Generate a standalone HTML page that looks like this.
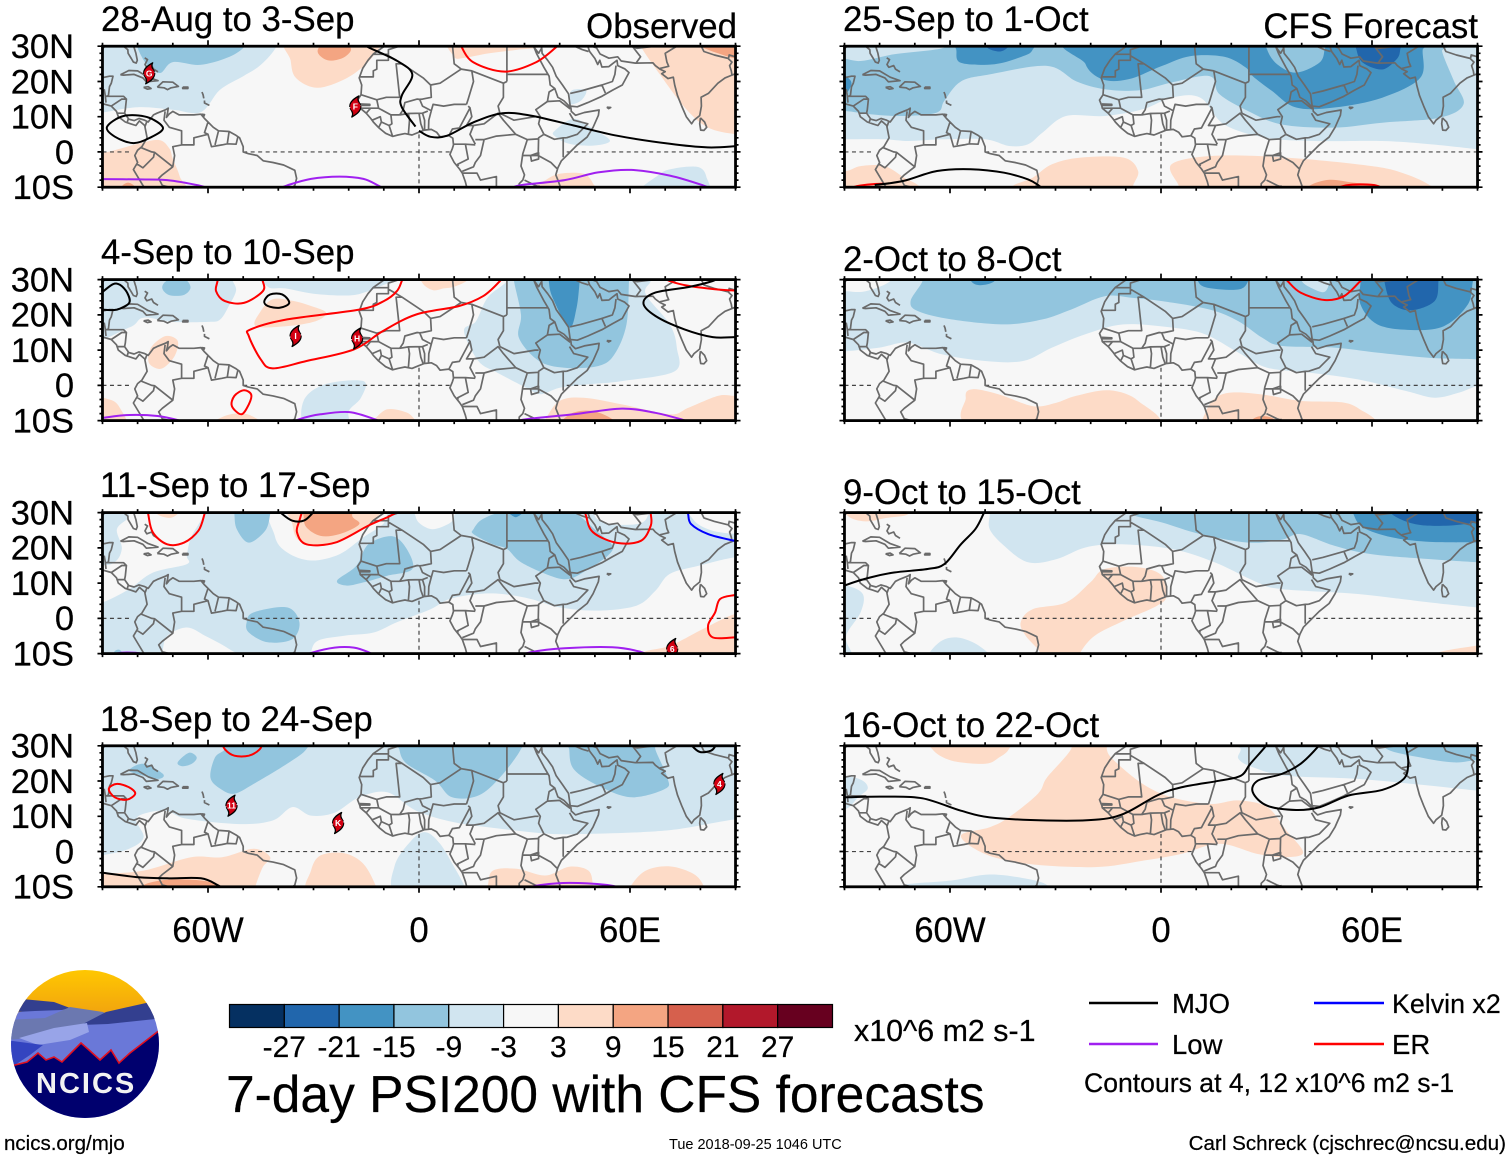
<!DOCTYPE html>
<html lang="en">
<head>
<meta charset="utf-8">
<title>7-day PSI200 with CFS forecasts</title>
<style>
html,body{margin:0;padding:0;background:#fff;}
svg{display:block;}
text{font-family:"Liberation Sans",Arial,sans-serif;fill:#000;stroke:#000;stroke-width:.22px;}
</style>
</head>
<body>
<svg id="root" xmlns="http://www.w3.org/2000/svg" width="1510" height="1159" viewBox="0 0 1510 1159">
  <rect x="0" y="0" width="1510" height="1159" fill="#fff"/>
  <g id="panels"></g>

  <text x="101" y="31" font-size="34.8">28-Aug to 3-Sep</text>
  <text x="101" y="264" font-size="34.8">4-Sep to 10-Sep</text>
  <text x="100" y="497" font-size="34.8">11-Sep to 17-Sep</text>
  <text x="100" y="731" font-size="34.8">18-Sep to 24-Sep</text>
  <text x="843" y="31" font-size="34.8">25-Sep to 1-Oct</text>
  <text x="843" y="271" font-size="34.8">2-Oct to 8-Oct</text>
  <text x="843" y="504" font-size="34.8">9-Oct to 15-Oct</text>
  <text x="842" y="737" font-size="34.8">16-Oct to 22-Oct</text>
  <text x="737" y="38" font-size="34.8" text-anchor="end">Observed</text>
  <text x="1478" y="38" font-size="34.8" text-anchor="end">CFS Forecast</text>

  <g id="colorbar"></g>
  <text x="854" y="1041" font-size="30.4">x10^6 m2 s-1</text>
  <text x="226" y="1112" font-size="51.5">7-day PSI200 with CFS forecasts</text>

  <g>
    <line x1="1089" y1="1003" x2="1158" y2="1003" stroke="#000" stroke-width="2.5"/>
    <text x="1172" y="1013" font-size="27.5">MJO</text>
    <line x1="1089" y1="1044" x2="1158" y2="1044" stroke="#a020f0" stroke-width="2.5"/>
    <text x="1172" y="1054" font-size="27.5">Low</text>
    <line x1="1314" y1="1003" x2="1384" y2="1003" stroke="#0000ff" stroke-width="2.5"/>
    <text x="1392" y="1013" font-size="26.8">Kelvin x2</text>
    <line x1="1314" y1="1044" x2="1384" y2="1044" stroke="#ff0000" stroke-width="2.5"/>
    <text x="1392" y="1054" font-size="27.5">ER</text>
    <text x="1084" y="1092" font-size="26.6">Contours at 4, 12 x10^6 m2 s-1</text>
  </g>

  <text x="4" y="1150" font-size="20.5">ncics.org/mjo</text>
  <text x="669" y="1149" font-size="14.5" style="stroke:none">Tue 2018-09-25 1046 UTC</text>
  <text x="1506" y="1150" font-size="20.6" text-anchor="end">Carl Schreck (cjschrec@ncsu.edu)</text>

  <g>
    <defs>
      <clipPath id="logo-clip"><circle cx="85" cy="1044" r="74"/></clipPath>
      <linearGradient id="sky" x1="0" y1="0" x2="0" y2="1"><stop offset="0" stop-color="#ffc800"/><stop offset="1" stop-color="#f0a010"/></linearGradient>
    </defs>
    <g clip-path="url(#logo-clip)">
      <rect x="10" y="969" width="150" height="50" fill="url(#sky)"/>
      <polygon points="5,1015 54,1005 103,1013 165,1005 165,1125 5,1125" fill="#6a78d8"/>
      <polygon points="5,999 22,999 54,1002 70,1008 62,1010 35,1011 16,1012 5,1012" fill="#333f8f"/>
      <polygon points="5,1020 45,1018 70,1007 103,1012 108,1015 81,1027 49,1037 5,1040" fill="#6b78b0"/>
      <polygon points="81,1025 106,1012 146,1003 165,1000 165,1018 108,1024" fill="#333f8f"/>
      <polygon points="19,1038 54,1028 87,1023 89,1032 70,1040 38,1045" fill="#98a4e8"/>
      <polygon points="5,1040 43,1045 30,1055 15,1065 5,1070" fill="#3344c0"/>
      <polygon points="5,1068 15,1065 27,1062 38,1053 46,1060 54,1057 62,1062 81,1043 89,1050 100,1060 111,1050 119,1063 130,1053 165,1026 165,1125 5,1125" fill="#00006e"/>
      <polyline points="5,1068 15,1065 27,1062 38,1053 46,1060 54,1057 62,1062 81,1043 89,1050 100,1060 111,1050 119,1063 130,1053 165,1026" fill="none" stroke="#e01020" stroke-width="1.6"/>
    </g>
    <text x="36" y="1093" font-size="29" font-weight="700" letter-spacing="2" style="fill:#f2f2f2;stroke:none">NCICS</text>
  </g>
</svg>

<script>
/* Panel dates */
const panelNames = ['28-Aug','4-Sep','11-Sep','18-Sep','25-Sep','2-Oct','9-Oct','16-Oct'];

/* Axis ticks */
const lonTickValues = [-90,-80,-70,-60,-50,-40,-30,-20,-10,0,10,20,30,40,50,60,70,80,90];
const lonLabelValues = [-60,0,60];
const lonLabelText = ['60W','0','60E'];
const latTickValues = [-10,-8,-6,-4,-2,0,2,4,6,8,10,12,14,16,18,20,22,24,26,28,30];
const latLabelValues = [30,20,10,0,-10];
const latLabelText = ['30N','20N','10N','0','10S'];

/* Colour scale */
const scaleBreaks = [-27,-21,-15,-9,-3,3,9,15,21,27];
const scaleColors = ['#053061','#2166ac','#4393c3','#92c5de','#d1e5f0','#f7f7f7','#fddbc7','#f4a582','#d6604d','#b2182b','#67001f'];
const scaleLabels = ['-27','-21','-15','-9','-3','3','9','15','21','27'];

/* Filled PSI anomaly regions: [value, [[lon,lat],...]] */
const fillsP1 = [
 [-6,[[-95,11],[-90,11.2],[-80,12.7],[-70,12],[-62,11.3],[-56.6,17.6],[-50,21.5],[-45,24.7],[-40.5,30],[-40,35],[-95,35]]],
 [-12,[[-80.5,33],[-80,29.5],[-77.3,24.7],[-73.6,22.4],[-70,25.5],[-62.3,24.7],[-54.6,26.7],[-50,29.5],[-48,33]]],
 [6,[[-37,33],[-36.5,26],[-35,21],[-29,18.2],[-21,20.7],[-15,25],[-11,30],[-10,33]]],
 [12,[[-28,30],[-28.7,28],[-26,26],[-22,26.5],[-19.5,28.5],[-20,30],[-24,30.5]]],
 [6,[[9.5,33],[10,27],[13,26.7],[20,28],[28,29],[35,30],[36,33]]],
 [6,[[62,33],[63,30],[68.5,22],[75.5,12.7],[82,7],[90,5],[95,5],[95,33]]],
 [12,[[78,32],[80,30],[85,28],[90,26.5],[95,26],[95,32]]],
 [6,[[-95,-0.5],[-90,-0.3],[-81,2],[-74,3.4],[-71,1],[-70,-2],[-68,-7],[-67,-13],[-95,-13]]],
 [12,[[-84.5,-11],[-84.3,-9.5],[-82.7,-8.7],[-81,-9.6],[-81,-11]]],
 [6,[[32,-11],[36,-8],[40,-6.2],[46.8,-6.2],[49.5,-9],[50,-12]]],
 [-6,[[62,-12],[64,-9.5],[67.5,-7],[71,-5],[79,-4.2],[81.7,-7],[81,-12]]],
 [-6,[[42.7,13.6],[43.4,17.4],[47.5,17.4],[46,14.5]]],
 [-6,[[38.6,6],[44,9.4],[49.5,6.5],[54.3,3.2],[49.5,1.8],[42.7,2.3],[38.6,4.5]]]
];
const fillsP2 = [
 [-6,[[-95,13],[-82.4,16.4],[-78.3,19.2],[-70,18],[-60,18],[-56.5,18.7],[-53.8,23],[-52,27],[-53,30],[-52,32],[-95,32]]],
 [-6,[[-44,33],[-43,28],[-38,27.5],[-30,26],[-20,25.5],[-15,26.5],[-10,28.5],[-7,30],[-5,33]]],
 [-12,[[-73,27.5],[-72,29.5],[-69,30.5],[-66,29.7],[-65,27.5],[-67,25.6],[-71,25.6]]],
 [6,[[-46.4,16.8],[-45,21],[-41.6,24.4],[-36,24],[-30.7,22.5],[-26.4,20.6],[-29.4,18.2],[-37.5,16.8]]],
 [6,[[-77,7.4],[-76,11],[-72,14],[-68.6,12.6],[-69.5,8.3],[-73,4.8],[-76,5.5]]],
 [6,[[0.5,33],[1,29],[4,27],[7,27.5],[10,28],[14,30],[14.5,33]]],
 [-6,[[25,33],[25,29.6],[19.5,24.9],[16.2,18.2],[12.8,15.4],[16.9,6.9],[22.3,3.6],[30.5,-0.7],[34.6,-2.5],[40,-0.7],[48.2,0.3],[57.7,1.2],[72.7,4],[73.3,10.7],[71.3,17.3],[64.5,25.8],[65.9,29.6],[66,33]]],
 [-12,[[27,33],[27,29.6],[29,20],[28.4,13.5],[34,7],[41.4,5],[51,5.5],[55.6,8.8],[59,17.3],[59.7,29.6],[60,33]]],
 [-18,[[36.9,33],[36.9,29.6],[38,24.9],[42.7,16.4],[44.8,22],[45.7,29.6],[46,33]]],
 [6,[[-95,-3.5],[-88,-4],[-85,-6.5],[-83.5,-12],[-95,-12]]],
 [6,[[-60,-12],[-57,-9.5],[-52.5,-8],[-48,-8.5],[-44,-12]]],
 [-6,[[-32.8,-4.4],[-26.7,0.3],[-15.8,1.2],[-16.5,-3.5],[-20,-7.3],[-20.5,-12],[-32,-12]]],
 [6,[[-14,-12],[-13,-10],[-9,-6.8],[-3.5,-7.7],[-1,-10],[0,-12]]],
 [6,[[35,-12],[36,-9.6],[40,-4.4],[46.8,-3.5],[57.7,-5.4],[71.3,-8.2],[76.7,-6.3],[85,-3],[89.7,-3],[95,-3],[95,-12]]],
 [12,[[40,-12],[40.7,-10],[44,-7.7],[49.5,-7.3],[55,-9.6],[56,-12]]]
];
const fillsP3 = [
 [-6,[[-96,-14],[96,-14],[96,34],[-96,34]]],
 [0,[[-95,4],[-90,4.5],[-82.4,8.3],[-75.6,13],[-66,15.4],[-66,17.8],[-64.8,23],[-61.4,29],[-61,33],[-84,33],[-82.4,29],[-85.9,25.3],[-84.5,19.7],[-87.2,15.5],[-95,14]]],
 [0,[[-74,-13],[-73,-9.6],[-71.6,-5],[-66,-2.6],[-60.7,-5],[-54,-8.7],[-49,-13]]],
 [0,[[-31,-13],[-30.7,-9.6],[-28.7,-6.3],[-21,-4.9],[-12.9,-4],[-6.3,-1.1],[3.3,2.6],[8.7,5.5],[16.9,6.9],[23.7,6.9],[31.8,5.5],[40,3.1],[50.9,2.2],[61.8,3.6],[67.2,7.8],[71.3,12.6],[79.5,14.9],[89.7,17.3],[95,17],[95,-13]]],
 [0,[[-40.5,33],[-41,23.4],[-37.5,18.7],[-30.7,16.4],[-22.6,18.2],[-15.8,23],[-10,27],[-9,31],[-10,33]]],
 [0,[[-1,33],[-1,29],[0.5,26.7],[4,25.3],[8.7,27],[10,29],[10,33]]],
 [0,[[50,33],[50,29],[53,27],[58,26.5],[63,27],[65,29],[65,33]]],
 [0,[[77,33],[78,28],[83,25],[90,24],[95,24],[95,33]]],
 [-12,[[-52.5,33],[-52.5,29.6],[-51.8,25.3],[-48.4,21.5],[-43.7,24.9],[-42.3,29.6],[-42,33]]],
 [-12,[[-23.3,10.7],[-17.8,14.9],[-14.4,21],[-7.6,23.3],[-3.5,19.7],[-1.9,14],[-9,12.1],[-15.8,10.2],[-20.5,9.3]]],
 [-12,[[15.5,25.3],[18.2,28.2],[25,30.5],[35.9,31],[44,30],[50.9,24.4],[55,20.6],[53.7,17.8],[48.2,14],[42.7,11.2],[37.3,12.1],[29,15.9],[25,19.7],[21,21],[15.5,23.9]]],
 [-12,[[-49,-1.1],[-47,1.7],[-37.5,3.1],[-34,-1.1],[-36,-5.9],[-43,-6.8],[-48.4,-4]]],
 [-18,[[25,30.5],[26,29.5],[27.5,28.7],[29,29.5],[29.5,30.5]]],
 [-12,[[-87,-11],[-86.5,-9.3],[-85,-9],[-84,-11]]],
 [6,[[-36,33],[-36,26.7],[-34,22],[-26.7,20.6],[-18.5,23.9],[-11.7,29],[-11,33]]],
 [12,[[-32.8,33],[-32.8,29],[-32,25.8],[-28,23.4],[-22.6,23.9],[-17,26.7],[-19,29],[-19,33]]],
 [6,[[-75,31],[-74,29.3],[-71,28.5],[-69,29.3],[-68,31]]],
 [6,[[60,-13],[63.8,-9.6],[71.3,-7.8],[80.8,-3],[89.7,1.2],[95,1],[95,-13]]]
];
const fillsP4 = [
 [-6,[[-95,-1],[-90,-1],[-82.4,0.8],[-78.3,4],[-80.4,8.8],[-78.3,10.7],[-72,11.6],[-66,9.3],[-51,7.8],[-41.6,8.8],[-36,12.6],[-30.7,10.2],[-24,11],[-17,15.4],[-9,16.8],[-0.8,11.6],[10,8.3],[23.7,6.4],[37.3,5],[48,5],[63,5.5],[74,6.4],[89,9],[95,9.5],[95,33],[-95,33]]],
 [-6,[[-6.9,-4],[-2.2,3.1],[1.9,5.5],[6,2.2],[10,-4.4],[12.8,-9.5],[13.5,-12],[-6,-12]]],
 [-12,[[-59.3,21],[-58,26.7],[-55.2,29.1],[-55,33],[-32,33],[-32,29.1],[-37.5,24.9],[-47,19.2],[-52.5,16.4],[-56.5,17.8]]],
 [-12,[[-68.6,25.3],[-65.4,28],[-63.2,26.7],[-64.6,24.9],[-67.3,24.2]]],
 [-12,[[-82.4,23],[-78.3,24.9],[-72.8,22],[-74,20.6],[-78.3,21.5]]],
 [-12,[[-5.6,33],[-5.6,29],[-3.5,24.9],[4.6,20.1],[9.4,15.4],[16.9,15.9],[23,21],[29,29.1],[29,33]]],
 [-12,[[42.7,33],[42.7,29],[44,23.4],[50.9,18.7],[60.4,15.4],[70,17.8],[70.6,21],[67.2,29],[67,33]]],
 [6,[[-95,-6.5],[-90,-6.3],[-78.3,-5.4],[-64.8,-1.6],[-56,-1.6],[-47,0.8],[-42.3,-1.6],[-44.4,-4.4],[-46.4,-9.5],[-47,-12],[-95,-12]]],
 [12,[[-79,-12],[-78.3,-9.5],[-71.6,-8],[-62,-8.2],[-57.2,-9.5],[-56,-12]]],
 [6,[[-31,-12],[-30.7,-5.4],[-28,-1.1],[-21.2,-0.5],[-15.8,-3.5],[-12.4,-9.5],[-12,-12]]],
 [6,[[19,-12],[19.6,-9.5],[21,-5.4],[27.8,-4.9],[35.9,-6.8],[42.7,-4.3],[48.2,-5.4],[49.5,-9.5],[50,-12]]],
 [6,[[60,-12],[60.4,-9.5],[64.5,-5.4],[71.3,-4.2],[78,-6.3],[80.8,-9.5],[81,-12]]]
];
const fillsP5 = [
 [-6,[[-95,3.6],[-89.5,3.6],[-78.6,3.6],[-71.8,3.1],[-62,3.6],[-50,3.6],[-43.2,1.7],[-37.8,2.2],[-33.7,5.5],[-27,10.2],[-16,10.2],[-5.2,12.1],[3,15.4],[11.2,15.4],[18,7.8],[30,4],[43.8,3.1],[62.9,3.1],[76.5,2.2],[90,0.8],[95,0.5],[95,33],[-95,33]]],
 [-12,[[-95,11.5],[-89.5,11.6],[-82.7,10.7],[-73,10.2],[-63.7,11.2],[-61.6,14.5],[-56.9,20],[-48.7,22],[-32.4,24.4],[-24,20],[-16,17.8],[-6,17.5],[3,19.7],[13.9,21.5],[16.6,16.4],[24.8,11.6],[34.3,7.8],[49.3,6.9],[62.9,8.3],[79.2,9.7],[86,13.5],[83.3,20.1],[79.9,28.6],[80,33],[-61,33],[-61.6,29.6],[-75.9,27.7],[-85.4,25.8],[-95,26]]],
 [-18,[[-58.2,33],[-58.2,29],[-56.9,25.3],[-47.3,24.9],[-39.2,27.2],[-36.5,29],[-36,33]]],
 [-18,[[-21,33],[-21.5,25],[-16.7,20.6],[-9.3,20.6],[0.3,24.4],[8.4,27.2],[18,27],[24,24],[26.1,21.5],[31.6,17.3],[38.4,12.6],[49.3,12.6],[62.9,15.4],[73.7,21],[74.4,29],[75,33]]],
 [-12,[[30.2,33],[30.2,29],[33,24.9],[38.4,22.5],[45,25.3],[46.5,29],[46.5,33]]],
 [-24,[[55.6,33],[55.6,29],[57.4,25.3],[62.9,23.4],[67,26.3],[68,29],[68,33]]],
 [-24,[[-50,31],[-49,29.3],[-46,28.5],[-44,29.3],[-43,31]]],
 [-18,[[-91,22],[-89.5,21.5],[-88,19.5],[-89.5,16.5],[-91,16]]],
 [6,[[-95,-12],[-95,-5.4],[-89.5,-5.4],[-85.4,-4],[-78.6,-4],[-73,-7.3],[-69,-9.5],[-68,-12]]],
 [6,[[-43,-12],[-41.9,-9.5],[-36.5,-7.3],[-31,-3.5],[-22.9,-1.6],[-10.6,-1.6],[-6.5,-5.4],[-7.9,-9.5],[-8,-12]]],
 [6,[[5.5,-12],[5,-9.5],[3,-3.5],[15.2,-1.1],[35.6,-1.6],[60,-4],[69.7,-6.3],[76.5,-9.5],[78,-12]]],
 [12,[[41,-12],[42.4,-9.5],[47.9,-7.9],[54.7,-8.7],[61.5,-9.5],[63,-12]]]
];
const fillsP6 = [
 [-6,[[-95,9.5],[-89.5,9.7],[-80,10.7],[-71.8,12.1],[-62.3,8.8],[-50,6.9],[-39.2,6.9],[-31,10.7],[-21.5,14.5],[-10.7,17.3],[3,16.4],[12.5,14.5],[22,9.3],[30.2,5],[42.4,3.6],[56,1.7],[69.7,-1.6],[77.8,-3.5],[84.6,-2.1],[90,-0.2],[95,0],[95,33],[-78,33],[-77,29.6],[-84,26.7],[-89.5,26.7],[-95,27]]],
 [-12,[[-71.2,23.9],[-67.8,29.6],[-68,33],[95,33],[95,7],[90,7.4],[76.5,7.8],[61.5,9.3],[49.3,10.7],[34.3,11.2],[28.8,13.5],[22,18.2],[13.9,21.5],[0.3,23.9],[-8,24.8],[-16,25.3],[-25.6,21.5],[-33.7,18.7],[-44.6,17.3],[-59.6,18.7],[-69,21]]],
 [-18,[[-54,33],[-54,29.6],[-51.4,28.4],[-47.3,29.6],[-47,33]]],
 [-18,[[10.5,33],[10.5,29.6],[13.2,27.7],[22,27.2],[24.8,29.6],[25,33]]],
 [-18,[[56,33],[56.7,29.6],[56.7,23],[61.5,17.3],[71,15.7],[80.5,16.8],[87.3,23],[88.7,29.6],[90,33]]],
 [-24,[[63.5,33],[63.5,29.6],[65.6,23.4],[71,21.3],[77.8,23.9],[78.9,29.6],[79,33]]],
 [-6,[[40,33],[40,29.6],[43,27.5],[46.5,26.5],[48,29.6],[48,33]]],
 [6,[[-52,-12],[-55.5,-3.5],[-53.5,-1.1],[-46,-2.6],[-36.5,-5.9],[-30,-5],[-24.2,-3],[-14.7,-1.4],[-6.5,-4.4],[-3,-12]]],
 [6,[[11,-12],[11.8,-9.6],[14.6,-4.4],[19.3,-2.1],[28.8,-2.6],[39.7,-4.4],[52,-4.9],[57.4,-7.3],[60.8,-9.6],[62,-12]]],
 [12,[[25,-12],[26.1,-9.6],[28.8,-8.7],[32.2,-9.6],[33,-12]]]
];
const fillsP7 = [
 [6,[[-90,33],[-89,29],[-84,27.5],[-78,28.5],[-72,29.5],[-71,33]]],
 [-6,[[-49,33],[-48.7,29.6],[-48.7,25.3],[-44.6,20.6],[-37.8,15.9],[-29.7,16.8],[-21.5,20.1],[-12,21],[3,19.7],[15.2,15.9],[27.4,10.2],[34.3,8.3],[56,6.9],[76.5,4.5],[90,3.1],[95,3],[95,33]]],
 [-6,[[-95,9],[-89.5,9.3],[-84.8,6.9],[-85.4,1.7],[-89.5,-4.9],[-88,-9.6],[-87,-12],[-95,-12]]],
 [-6,[[-66,-12],[-65.7,-9.6],[-62.3,-6.3],[-58.2,-5.4],[-53.5,-6.8],[-49.4,-9.6],[-48,-12]]],
 [-12,[[-9,33],[-8.6,29.6],[0.3,27.2],[11.2,23.9],[24.8,21.5],[34.3,22.3],[39.7,23.9],[49.3,20.6],[60,18.2],[76.5,16.8],[90,15.9],[95,15.5],[95,33]]],
 [-18,[[54,33],[54.7,29.6],[57.4,25.8],[65.6,23],[76.5,21.7],[90,21.5],[95,21],[95,33]]],
 [-24,[[65,33],[65.6,29.6],[72.4,26.7],[81.9,26.3],[90,27.2],[95,27],[95,33]]],
 [6,[[-39.9,-1.1],[-36.5,2.6],[-27,4.5],[-20.1,10.2],[-16,14],[-6.5,14.5],[0.3,12.1],[1.6,6.4],[-1.1,3.6],[-10.6,-0.7],[-18.8,-4.9],[-22.9,-9.6],[-24,-13],[-34,-13],[-34.4,-9.6],[-38.5,-4.9]]],
 [6,[[78,-12],[79.2,-9.6],[90,-7.7],[95,-7],[95,-12]]]
];
const fillsP8 = [
 [-6,[[22,33],[22.7,29.1],[22,26.3],[26.1,23.9],[35.6,21.5],[56,20.6],[76.5,18.7],[90,17.3],[95,17],[95,33]]],
 [-12,[[64,33],[64.2,29.1],[73.7,26.7],[83.3,25.3],[90,26],[95,26],[95,33]]],
 [-6,[[-95,22],[-89.5,21.5],[-84.8,20.1],[-83.4,17.8],[-86.1,15.4],[-89.5,12.1],[-95,12]]],
 [-6,[[-74,-12],[-73.2,-9.5],[-59.6,-8.2],[-48.7,-6.5],[-37.8,-7.8],[-32.4,-9.5],[-32,-12]]],
 [6,[[-65,33],[-65,29],[-59.6,25.8],[-50,24.9],[-46,26.7],[-43.3,29],[-43,33]]],
 [6,[[-26,33],[-25.6,29],[-32.4,21],[-35,16.4],[-43.3,9.7],[-48.7,6.9],[-56.9,4.5],[-50,-0.7],[-37.8,-3.5],[-18.8,-4.4],[-5.2,-2.6],[5.7,-0.7],[16.6,2.2],[27.5,-0.7],[35.6,-1.6],[40.4,-0.2],[35.6,6],[30.2,12.6],[22,14.5],[13.9,13.5],[3,15.4],[-5.2,19.2],[-13.3,25.8],[-15.4,29],[-15,33]]]
];

/* Wave contours: [wave, closed(1/0), [[lon,lat],...]] */
const linesP1 = [
 ['mjo',1,[[-88.7,7.1],[-84,10.2],[-77.3,9.9],[-72.8,6.8],[-76.5,4],[-81.2,2.5],[-86.4,4.3]]],
 ['mjo',0,[[-16,31],[-14.4,29.7],[-6.3,25.9],[-1.9,22],[-4.9,16],[-4.9,12.7],[-1,7.2]]],
 ['mjo',0,[[0,6],[3.3,4.3],[8,4.6],[15.5,8.4],[23.7,11],[31.8,10.3],[44,7.5],[56.3,4.6],[71.3,2.3],[82,1.3],[89.7,1.6],[93,2]]],
 ['er',0,[[11.5,32],[12,30],[15.5,25.4],[24.4,22.8],[33.2,25.4],[39.3,30],[41,32]]],
 ['low',0,[[-93,-7.6],[-90,-7.7],[-79.7,-7.8],[-71.6,-8],[-62.7,-9.5],[-58,-11]]],
 ['low',0,[[-41,-11],[-37.5,-9.5],[-30.7,-7.65],[-22.6,-7],[-15.8,-7.65],[-11.7,-9.5],[-9,-11]]],
 ['low',0,[[26,-10.5],[29,-9.4],[41.4,-8],[50.9,-5.8],[60.4,-5.1],[71.3,-6.7],[80.8,-9.5],[84,-11]]]
];
const linesP2 = [
 ['er',0,[[-4,32],[-4.9,29.6],[-6.3,26.7],[-10,23.9],[-17,21.5],[-37.5,18.7],[-47.8,15.9],[-48.4,14],[-45,7.4],[-41.6,4.8],[-32,6.9],[-18.5,10.2],[-10.3,15.4],[-0.8,20.1],[11.4,22.5],[18.2,25.3],[23,29.6],[24.5,32]]],
 ['er',0,[[-57.3,32],[-57.3,29.6],[-57.7,26.7],[-55.2,23.9],[-49.8,23.4],[-44.4,26.7],[-44.4,29.6],[-45,32]]],
 ['er',1,[[-49.8,-1.4],[-47.7,-2.6],[-48.4,-5.4],[-50.5,-8.2],[-53.2,-5.9],[-52.5,-3]]],
 ['er',0,[[69,31],[71.3,29.6],[76.7,28.2],[84.9,27.2],[89.7,26.9],[93,26.8]]],
 ['mjo',0,[[-92,25],[-90,26.5],[-87,28.7],[-85,28.5],[-83,26.3],[-82.4,23.4],[-85.9,21.5],[-90,21.5],[-92,22]]],
 ['mjo',1,[[-44,23.9],[-42.3,25.8],[-38.9,25.8],[-36.9,23.4],[-39.6,22],[-43,22.5]]],
 ['mjo',0,[[86,31],[83.5,29.6],[76.7,27.9],[67.2,26.3],[63.8,23.4],[67.2,19.7],[75.4,15.9],[83.5,13.7],[89.7,13.7],[95,13.7]]],
 ['low',0,[[-93,-9.5],[-90,-9.2],[-82.4,-8.4],[-74.3,-8.7],[-68,-10],[-65,-11]]],
 ['low',0,[[-37,-11],[-34,-9.6],[-28,-8.2],[-19.8,-7.6],[-12.4,-9.7],[-10,-11]]],
 ['low',0,[[27,-10.5],[30.5,-9.6],[44,-8.2],[57.7,-6.6],[67.2,-7.8],[74.7,-9.7],[78,-11]]]
];
const linesP3 = [
 ['er',0,[[-77.5,32],[-77,29.6],[-75.7,24.4],[-71.6,21],[-66.8,21.5],[-62.7,24.9],[-61,29.6],[-60.5,32]]],
 ['er',0,[[-33,31],[-34,27.7],[-34.7,24.4],[-32,21],[-23.8,21.5],[-14.4,26.3],[-8.3,29],[-5,31]]],
 ['er',0,[[47,32],[47.5,29],[49.5,24.4],[56.3,21.4],[63.1,22],[65.9,26.3],[65.9,29.6],[65.5,32]]],
 ['er',0,[[93,7],[89.7,6.6],[85.6,5.5],[84.2,1.7],[82.2,-2],[83.5,-5.4],[89.7,-5.4],[93,-5]]],
 ['mjo',0,[[-40,31],[-38.9,29.6],[-36,27.7],[-32.8,27.7],[-30.5,29.6],[-29.5,31]]],
 ['kelvin',0,[[76,32],[76.5,29.6],[77.4,26.7],[82.2,23.9],[89.7,22],[93,21.5]]],
 ['low',0,[[-88,-11],[-86,-10],[-83,-9.7],[-79,-10],[-77,-11]]],
 ['low',0,[[-33,-11],[-30.7,-9.8],[-24,-8.3],[-18.5,-8.3],[-14.4,-9.6],[-12,-11]]],
 ['low',0,[[28,-11],[31.8,-9.6],[41.4,-8.5],[55,-8.2],[63,-9.5],[66,-11]]]
];
const linesP4 = [
 ['er',0,[[-56,31],[-55.2,29],[-52.5,27.2],[-48.4,27.2],[-45.3,29],[-44.5,31]]],
 ['er',1,[[-88.2,17.8],[-85.9,19.2],[-82.4,18.2],[-80.7,16.4],[-83.1,14.7],[-86.5,15.4]]],
 ['mjo',0,[[77,31],[78,29.6],[80,28.2],[83,28.6],[84.2,29.8],[85,31]]],
 ['mjo',0,[[-93,-5.6],[-90,-6],[-79.7,-7.3],[-71.6,-7.6],[-62,-7.6],[-57.3,-9.5],[-55,-11]]],
 ['low',0,[[30,-10.5],[34.6,-9.5],[42.7,-8.9],[53.6,-9.5],[58,-10.5]]]
];
const linesP5 = [
 ['er',0,[[48,-11],[52.6,-9.5],[57.4,-9.2],[61.5,-9.6],[64,-11]]],
 ['er',0,[[-89,-10.5],[-86,-9.6],[-81.4,-9.1],[-79,-9]]],
 ['mjo',0,[[-81.4,-9.4],[-73.2,-8.2],[-63.7,-5.4],[-54.1,-4.9],[-44.6,-5.9],[-37.8,-7.8],[-34.8,-9.5],[-33,-11]]]
];
const linesP6 = [
 ['er',0,[[34,32],[36,29.6],[39.7,26.3],[46.5,24.2],[52,25.3],[56.7,29.6],[59,32]]]
];
const linesP7 = [
 ['mjo',0,[[-49.5,32],[-50.5,29.6],[-52.8,25.3],[-56.9,21],[-61.6,15.4],[-66.4,14],[-75.9,13],[-82.7,11.6],[-89.5,9.5],[-93,8]]]
];
const linesP8 = [
 ['mjo',0,[[-93,15.2],[-89.5,15.4],[-78.6,15.6],[-67.8,15.1],[-56.9,11.6],[-48.7,9.7],[-32.4,8.8],[-18.8,9],[-10.6,10.7],[-1.1,15.9],[5.7,18.2],[16.6,20.1],[22.7,21.5],[25.4,24.9],[29.5,29.6],[31,32]]],
 ['mjo',0,[[46,32],[44.5,29.6],[39.7,24.9],[34.3,22],[27.5,20.1],[26.1,16.8],[30.2,13],[38.4,11.8],[45.2,12.6],[53.3,15.9],[62.9,17.5],[69,20.6],[70.3,24.9],[69.7,29.6],[69,32]]]
];

/* Tropical cyclones: [lon, lat, label] */
const stormsP1 = [[-76.7,22.3,'G'],[-18.1,12.9,'F']];
const stormsP2 = [[-35.1,14,'I'],[-17.6,13.3,'H']];
const stormsP3 = [[72,-8.7,'6']];
const stormsP4 = [[-53.3,13,'11'],[-23,8.1,'K'],[85.4,19.2,'4']];
const stormsP5 = [];
const stormsP6 = [];
const stormsP7 = [];
const stormsP8 = [];

/* Coastlines and political borders, [lon,lat] */
const coastLines = [
 [[-81.3,30.5],[-80.5,28],[-80.1,26],[-80.4,25.2],[-81.2,25.5],[-81.8,26.5],[-82.7,28],[-82.8,29],[-84,30],[-86,30.4],[-89,30.3],[-90,29.3],[-92,29.6]],
 [[-91,18.5],[-90.5,19.5],[-90.4,21],[-88,21.5],[-87,21.5],[-87.5,19.5],[-88,18.5],[-88.3,16],[-88.9,15.8],[-87.5,15.8],[-84,15.8],[-83.2,15],[-83.5,12],[-83.7,11],[-82.5,9.3],[-81,8.9],[-79.6,9.5],[-78,9],[-77,8.5],[-75.5,10.5],[-74.5,11],[-72,12],[-71.3,12.4],[-71.5,11],[-71.8,9.8],[-71,10.8],[-70,11.5],[-68.2,10.5],[-66,10.5],[-64,10.5],[-62,10.7],[-61,9.5],[-60,8.5],[-58.5,7],[-57,6],[-54,5.8],[-52,4.7],[-51,4],[-50,1.5],[-50,0],[-48.5,-0.5],[-46,-1],[-44.3,-2.5],[-41.5,-3],[-38.5,-3.7],[-35.3,-5.2],[-34.8,-7.5],[-35.3,-9.5],[-36.5,-10.5]],
 [[-91,14],[-87.5,13],[-86,11.5],[-85.5,10],[-83.5,8.5],[-82,8],[-80.5,7.5],[-79.5,8.8],[-78,7.5],[-77.3,4],[-78.8,1.5],[-80,0.5],[-80.8,-1],[-80,-3],[-81.2,-5],[-80,-7],[-78.5,-9.5],[-77.8,-10.5]],
 [[-72.2,11.5],[-72.5,9],[-71,7],[-67.5,6],[-67.5,2],[-70,1.5],[-69.5,-1],[-70,-4.2],[-73,-6.5],[-74,-7.5],[-73,-9.5],[-71,-10],[-69.5,-11]],
 [[-79,1.2],[-76,0],[-75.2,-0.1],[-70,-4.2]],
 [[-80.2,-3.4],[-78.5,-4.5],[-75.5,-1.5],[-75.2,-0.1]],
 [[-60,8.5],[-61,5.5],[-60,5],[-64,4],[-64,2],[-67.5,2]],
 [[-60,5],[-59,1.5],[-56,2],[-54.5,2.3],[-52,2.2],[-51.5,4.3]],
 [[-57,6],[-58,2]],
 [[-54,5.8],[-54.5,2.3]],
 [[-69.5,-11],[-65.3,-10],[-65,-11]],
 [[-89.5,17.8],[-89.2,15.9],[-89,14]],
 [[-87.5,13],[-84.5,15],[-83.2,15]],
 [[-85.7,11],[-83.7,11]],
 [[-83,8.3],[-82.6,9.6]],
 [[-77.4,8.6],[-77.9,7.2]],
 [[-84.9,21.9],[-82.5,23.1],[-80,23],[-77,21.2],[-74.2,20.2],[-77.5,19.9],[-78.5,21],[-81,22],[-84,21.8],[-84.9,21.9]],
 [[-74.4,18.4],[-72.8,19.9],[-70,19.8],[-68.4,18.6],[-70.5,18.2],[-71.5,17.7],[-72.5,18.2],[-74.4,18.4]],
 [[-78.3,18.3],[-77,18.5],[-76.2,18],[-77.2,17.8],[-78.3,18.3]],
 [[-67.2,18.4],[-65.7,18.4],[-65.7,18],[-67.2,18],[-67.2,18.4]],
 [[-78,26.7],[-77.2,26.2],[-77.9,24.8],[-77.4,24],[-76,24.5],[-75.5,23.5],[-74.2,22.7]],
 [[-61.7,17],[-61.4,16.2],[-61.2,15.2]],
 [[-61,14.6],[-61,13.9],[-59.6,13.2]],
 [[-61.8,10.7],[-61,10.6],[-61.2,10.1],[-61.8,10.7]],
 [[-9.8,30],[-13,27.8],[-14.5,26],[-16,23.7],[-17,21],[-16.3,19],[-16.5,16.2],[-17.5,14.7],[-16.8,13],[-16.7,12.4],[-15,11],[-13.7,9.5],[-13,8.5],[-11.5,6.9],[-9.5,5.3],[-7.5,4.4],[-6,4.8],[-4,5.2],[-2,4.8],[0,5.6],[1.5,6.2],[3.5,6.4],[5,5.6],[6,4.3],[7.5,4.5],[8.5,4.6],[9.6,3.9],[9.8,2],[9.5,1],[8.8,-0.7],[10,-3],[11.5,-4.8],[12.3,-6],[13.2,-8.5],[13.7,-10.5]],
 [[32.5,30.2],[33.5,27.8],[35.5,24],[37,21.5],[37.3,19],[38.6,18],[39.5,15.5],[41.2,14.5],[43.2,12.5],[43.3,11.5],[44.5,10.4],[47,11.2],[51.2,11.9],[51,10.4],[49.5,7],[47.8,4.2],[45,2],[42,-1],[40.5,-2.5],[39.5,-4.5],[38.9,-6.5],[39.5,-8],[40.4,-10.5]],
 [[34.2,31],[34.9,29.5],[35,28],[36.6,26],[38,24],[39,21.5],[40.8,19],[42.5,16.5],[43,13],[45,12.8],[48,14],[52,15.8],[55,17.5],[57.8,19],[59.7,22.5],[58.5,23.6],[56.5,24.5],[56.3,26],[55,25],[54,24.2],[52,24.1],[51.4,26],[50.8,24.8],[50,26.5],[48.5,28.5],[48,30],[48.5,30.2],[50.5,29.5],[51.5,27.8],[54,26.6],[56.5,27],[57.5,25.8],[61.5,25.2],[66.5,25.3],[67.2,24.5],[68.5,23.5],[70,22.8],[69,22.2],[70.8,20.8],[72.3,21.2],[72.7,19],[73.5,16],[74.7,13],[76,10],[77.5,8],[78.2,9],[79.8,10.3],[80.3,13],[80.2,15.5],[82.3,16.6],[85,19.5],[87,21],[88.7,21.7],[90,22.2],[92,21]],
 [[32.5,30],[34,28],[34.9,29.5]],
 [[80,9.7],[81.2,8.5],[81.8,7],[81,6.1],[80.1,6.2],[79.8,8],[80,9.7]],
 [[53.4,12.7],[54.5,12.6],[53.9,12.3],[53.4,12.7]],
 [[80,30.5],[81,28.5],[84,27.5],[88,26.5],[88.2,27.5],[90,27],[92,27]],
 [[88,26.4],[89,25.5],[88.3,24.5],[88.8,23],[89,21.8]],
 [[90,25.2],[92,25]],
 [[74,30.8],[73,29.8],[70,28],[70.5,25.5],[71,24.3],[68.5,23.7]],
 [[60.8,29.8],[63,27],[61.7,25.2]],
 [[66,29.9],[62,29.4],[60.8,29.8]],
 [[-17,21.3],[-13,21.3],[-13,23],[-12,23.5],[-12,26],[-8.7,26],[-8.7,27.7],[-13,27.7]],
 [[-8.7,27.7],[-8.7,29],[-4,30.5]],
 [[-8.7,27.3],[-4.8,25],[-6.5,25],[-5.5,15.5],[-9.3,15.5],[-12,14.8],[-16.4,16.2]],
 [[-4.8,25],[1.2,21],[3.3,19],[6,19.5],[12,23.5],[10,25],[9.5,30.5]],
 [[25,31],[25,22],[36.8,22]],
 [[25,20],[24,19.5],[15,23],[12,23.5]],
 [[25,22],[25,20]],
 [[15,23],[15.5,20],[14,15],[13.5,13.5]],
 [[24,19.5],[24,15.5],[22.5,13],[23,11]],
 [[3.5,11.7],[4,13.5],[7,13],[10,13.5],[13.5,13.5]],
 [[3.3,19],[3.5,15.5],[1,15],[0.2,14.9],[1,13],[3.5,11.7],[2.8,9],[2.7,6.4]],
 [[-5.5,10.5],[-4.5,12],[-4,14],[-0.5,15],[0.2,14.9]],
 [[-5.5,10.5],[-3,10.9],[1,11],[2.5,11.6]],
 [[0,11],[0.5,8],[1.2,6.1]],
 [[1,11],[1.6,9],[1.6,6.2]],
 [[-3,10.9],[-2.7,9],[-3,5.1]],
 [[-5.5,10.5],[-8,10.5],[-7.7,8],[-8.5,7.5],[-7.5,4.4]],
 [[-12,14.8],[-11.5,12.4],[-8,10.5]],
 [[-11.5,12.4],[-16.7,12.4]],
 [[-16.8,13.6],[-14,13.5],[-14,13.2],[-16.8,13.2]],
 [[-13.7,12.5],[-15,11]],
 [[-13.3,9],[-11,10],[-10.7,8.5],[-11.5,6.9]],
 [[-10.7,8.5],[-8.5,7.5]],
 [[8.5,4.6],[9.5,6.5],[11.5,6.8],[13.2,10],[14.5,12.5],[14,13]],
 [[14.5,12.5],[15,10],[13.5,7.5],[15.5,7.5],[18.5,8],[22.5,11],[24,9],[27.5,5],[30.8,3.5]],
 [[15.5,7.5],[14.5,5],[16,2.2]],
 [[16,3.5],[18.5,3.5],[22,4.5],[27.5,5]],
 [[9.8,2.2],[13.2,2.2],[16,2]],
 [[13.2,2.2],[14,-2],[11,-3.5],[11.2,-4]],
 [[18.5,3.5],[17.5,-1],[16,-3],[15.5,-4.2],[12.3,-5.5]],
 [[12.2,-6],[16.5,-6],[17.5,-8],[22,-7],[22,-11]],
 [[22,-11],[24,-11],[28,-12]],
 [[30.8,3.5],[29.5,-0.5],[29,-4],[30,-6.5],[29.5,-8],[28.5,-9],[28.5,-12]],
 [[29.5,-1],[33.9,-1],[37.5,-3],[39.2,-4.7]],
 [[30,-8],[33,-9.5],[34.5,-10]],
 [[34,-9.5],[34.8,-12]],
 [[35,-11],[40.4,-10.5]],
 [[33.9,-1],[34,4],[35.5,5]],
 [[30.8,3.5],[34,3.7]],
 [[35.5,5],[38.5,3.6],[41,4],[41.9,4]],
 [[41,4],[41,-1.5]],
 [[42.8,11],[44,9],[48,8],[45,5],[41.9,4]],
 [[36.5,14.3],[33.2,12],[34.5,10],[34,8],[35.5,5]],
 [[36.5,14.3],[37,17],[38.6,18]],
 [[36.5,14.3],[40,14.5],[43,12.2]],
 [[23,11],[27,9],[33,10],[34,10]],
 [[31.7,-1],[34,-0.2],[34,-2],[32,-2.6],[31.7,-1]],
 [[43,16.6],[46,17.3],[52,19]],
 [[53,16.7],[52,19],[55,20],[55.7,22],[56,24.5]],
 [[37,30.5],[39,31.5]],
 [[46.5,29],[48.2,28.5]],
 [[42,31],[46.5,29]]
];

/* Where the equator and the prime meridian are drawn (over ocean only) */
const equatorSpans = [[-90,-82],[-50,9],[42,90]];
const meridianSpan = [5,-10];

/* ---------- layout and axis functions ---------- */
const NS = 'http://www.w3.org/2000/svg';
const LON_ZERO = [419,419,419,419,1161,1161,1161,1161];
const LAT_TOP = [46.2,279.6,512.6,745.8,46.2,279.6,512.6,745.8];
const PX_PER_LON = 3.517;
const PX_PER_LAT = 3.525;

function xAt(i, lon){ return LON_ZERO[i] + lon * PX_PER_LON; }
function yAt(i, lat){ return LAT_TOP[i] + (30 - lat) * PX_PER_LAT; }
function colorFor(v){
  let k = 0;
  while (k < scaleBreaks.length && v >= scaleBreaks[k]) k++;
  return scaleColors[k];
}
function svgEl(tag, parent){
  const e = document.createElementNS(NS, tag);
  parent.appendChild(e);
  return e;
}
function smoothPath(i, pts, closed){
  const p = pts.map(function(q){ return [xAt(i,q[0]), yAt(i,q[1])]; });
  const n = p.length;
  const at = function(k){ return closed ? p[(k+n)%n] : p[Math.max(0,Math.min(n-1,k))]; };
  let d = 'M' + p[0][0].toFixed(1) + ' ' + p[0][1].toFixed(1);
  const last = closed ? n : n-1;
  for (let k = 0; k < last; k++){
    const a = at(k-1), b = at(k), c = at(k+1), e = at(k+2);
    d += 'C' + (b[0]+(c[0]-a[0])/6).toFixed(1) + ' ' + (b[1]+(c[1]-a[1])/6).toFixed(1) + ' ' +
         (c[0]-(e[0]-b[0])/6).toFixed(1) + ' ' + (c[1]-(e[1]-b[1])/6).toFixed(1) + ' ' +
         c[0].toFixed(1) + ' ' + c[1].toFixed(1);
  }
  return closed ? d + 'Z' : d;
}
function straightPath(i, pts){
  return pts.map(function(q,k){ return (k?'L':'M') + xAt(i,q[0]).toFixed(1) + ' ' + yAt(i,q[1]).toFixed(1); }).join('');
}

const waveColors = {mjo:'#000000', low:'#a020f0', kelvin:'#0000ff', er:'#ff0000'};
const allFills = [fillsP1,fillsP2,fillsP3,fillsP4,fillsP5,fillsP6,fillsP7,fillsP8];
const allLines = [linesP1,linesP2,linesP3,linesP4,linesP5,linesP6,linesP7,linesP8];
const allStorms = [stormsP1,stormsP2,stormsP3,stormsP4,stormsP5,stormsP6,stormsP7,stormsP8];
const panelsRoot = document.getElementById('panels');

panelNames.forEach(function(name, i){
  const left = xAt(i,-90), right = xAt(i,90), top = yAt(i,30), bottom = yAt(i,-10);
  const g = svgEl('g', panelsRoot);
  
  

  const cp = svgEl('clipPath', g);
  cp.setAttribute('id', 'clip-' + i);
  const cr = svgEl('rect', cp);
  cr.setAttribute('x', left); cr.setAttribute('y', top);
  cr.setAttribute('width', right-left); cr.setAttribute('height', bottom-top);

  const body = svgEl('g', g);
  body.setAttribute('clip-path', 'url(#clip-' + i + ')');
  
  

  const bg = svgEl('rect', body);
  bg.setAttribute('x', left); bg.setAttribute('y', top);
  bg.setAttribute('width', right-left); bg.setAttribute('height', bottom-top);
  bg.setAttribute('fill', colorFor(0));
  
  

  allFills[i].forEach(function(f){
    const s = svgEl('path', body);
    s.setAttribute('d', smoothPath(i, f[1], true));
    s.setAttribute('fill', colorFor(f[0]));
    
    
  });

  equatorSpans.forEach(function(sp){
    const l = svgEl('line', body);
    l.setAttribute('x1', xAt(i,sp[0])); l.setAttribute('x2', xAt(i,sp[1]));
    l.setAttribute('y1', yAt(i,0)); l.setAttribute('y2', yAt(i,0));
    l.setAttribute('stroke', '#444'); l.setAttribute('stroke-width', '1.2');
    l.setAttribute('stroke-dasharray', '4 3.5');
    
    
  });
  const pm = svgEl('line', body);
  pm.setAttribute('x1', xAt(i,0)); pm.setAttribute('x2', xAt(i,0));
  pm.setAttribute('y1', yAt(i,meridianSpan[0])); pm.setAttribute('y2', yAt(i,meridianSpan[1]));
  pm.setAttribute('stroke', '#444'); pm.setAttribute('stroke-width', '1.2');
  pm.setAttribute('stroke-dasharray', '4 3.5');
  
  

  const coast = svgEl('path', body);
  coast.setAttribute('d', coastLines.map(function(c){ return straightPath(i,c); }).join(''));
  coast.setAttribute('fill', 'none');
  coast.setAttribute('stroke', '#6a6a6a');
  coast.setAttribute('stroke-width', '1.7');
  coast.setAttribute('stroke-linejoin', 'round');
  
  

  allLines[i].forEach(function(c){
    const s = svgEl('path', body);
    s.setAttribute('d', smoothPath(i, c[2], c[1] === 1));
    s.setAttribute('fill', 'none');
    s.setAttribute('stroke', waveColors[c[0]]);
    s.setAttribute('stroke-width', '2');
    
    
  });

  allStorms[i].forEach(function(st){
    const sg = svgEl('g', body);
    sg.setAttribute('transform', 'translate(' + xAt(i,st[0]).toFixed(1) + ' ' + yAt(i,st[1]).toFixed(1) + ')');
    
    
    const arms = svgEl('path', sg);
    arms.setAttribute('d', 'M-5.5,0C-5.5,-5 -1,-8 3.5,-10.5C2,-8 2.5,-6 5,-2ZM5.5,0C5.5,5 1,8 -3.5,10.5C-2,8 -2.5,6 -5,2Z');
    arms.setAttribute('fill', '#c8000f');
    arms.setAttribute('stroke', '#000');
    arms.setAttribute('stroke-width', '1.3');
    arms.setAttribute('stroke-linejoin', 'round');
    
    
    const eye = svgEl('circle', sg);
    eye.setAttribute('r', '5.2');
    eye.setAttribute('fill', '#d40012');
    
    
    const lab = svgEl('text', sg);
    lab.setAttribute('x', '0'); lab.setAttribute('y', '3');
    lab.setAttribute('font-size', '8.5');
    lab.setAttribute('font-weight', '700');
    lab.setAttribute('text-anchor', 'middle');
    lab.setAttribute('style', 'fill:#fff;stroke:none');
    
    
    lab.textContent = st[2];
  });

  const frame = svgEl('rect', g);
  frame.setAttribute('x', left); frame.setAttribute('y', top);
  frame.setAttribute('width', right-left); frame.setAttribute('height', bottom-top);
  frame.setAttribute('fill', 'none');
  frame.setAttribute('stroke', '#000');
  frame.setAttribute('stroke-width', '2.8');
  
  

  const ticks = svgEl('path', g);
  let td = '';
  lonTickValues.forEach(function(v){
    const len = lonLabelValues.indexOf(v) >= 0 ? 6 : 3.5;
    const x = xAt(i,v).toFixed(1);
    td += 'M' + x + ' ' + top + 'V' + (top-len) + 'M' + x + ' ' + bottom + 'V' + (bottom+len);
  });
  latTickValues.forEach(function(v){
    const len = latLabelValues.indexOf(v) >= 0 ? 5 : 3;
    const y = yAt(i,v).toFixed(1);
    td += 'M' + left + ' ' + y + 'H' + (left-len) + 'M' + right + ' ' + y + 'H' + (right+len);
  });
  ticks.setAttribute('d', td);
  ticks.setAttribute('stroke', '#000');
  ticks.setAttribute('stroke-width', '1.7');
  ticks.setAttribute('fill', 'none');
  
  

  if (i < 4){
    latLabelValues.forEach(function(v,k){
      const t = svgEl('text', g);
      t.setAttribute('x', '74');
      t.setAttribute('y', (yAt(i,v)+11.8).toFixed(1));
      t.setAttribute('font-size', '34.5');
      t.setAttribute('text-anchor', 'end');
      
      
      t.textContent = latLabelText[k];
    });
  }
  if (i === 3 || i === 7){
    lonLabelValues.forEach(function(v,k){
      const t = svgEl('text', g);
      t.setAttribute('x', xAt(i,v));
      t.setAttribute('y', '942');
      t.setAttribute('font-size', '34.8');
      t.setAttribute('text-anchor', 'middle');
      
      
      t.textContent = lonLabelText[k];
    });
  }
});

/* Colour bar */
const barRoot = document.getElementById('colorbar');
const BAR_X = 229.5, BAR_Y = 1004.5, BAR_W = 603, BAR_H = 23;
const boxW = BAR_W / scaleColors.length;
scaleColors.forEach(function(c,k){
  const r = svgEl('rect', barRoot);
  r.setAttribute('x', BAR_X + k*boxW);
  r.setAttribute('y', BAR_Y);
  r.setAttribute('width', boxW);
  r.setAttribute('height', BAR_H);
  r.setAttribute('fill', c);
  r.setAttribute('stroke', '#000');
  r.setAttribute('stroke-width', '1.2');
  
  
});
scaleLabels.forEach(function(s,k){
  const t = svgEl('text', barRoot);
  t.setAttribute('x', (BAR_X + (k+1)*boxW).toFixed(1));
  t.setAttribute('y', '1057');
  t.setAttribute('font-size', '30');
  t.setAttribute('text-anchor', 'middle');
  
  
  t.textContent = s;
});
</script>
</body>
</html>
